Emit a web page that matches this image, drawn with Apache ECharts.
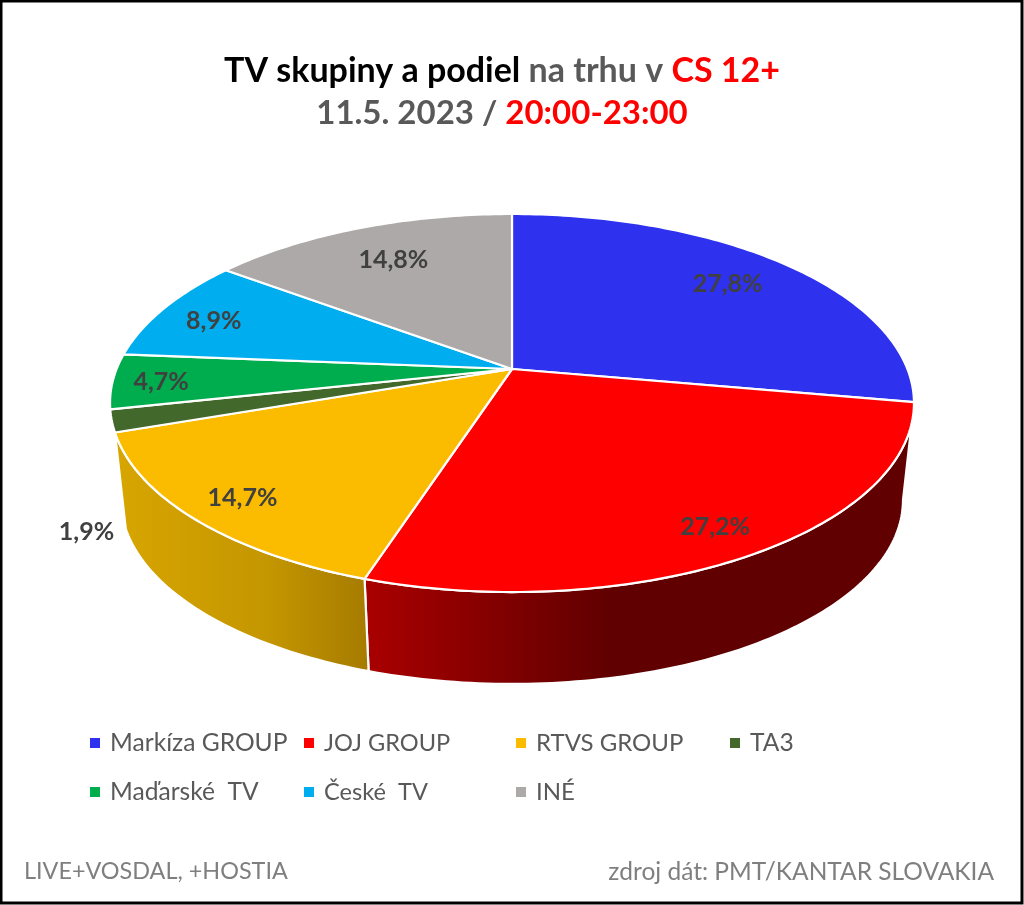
<!DOCTYPE html>
<html><head><meta charset="utf-8">
<style>html,body{margin:0;padding:0;background:#fff}#c{width:1024px;height:905px}</style>
<script src="https://cdn.jsdelivr.net/npm/echarts@6/dist/echarts.min.js"></script>
</head><body><div id="c"></div>
<script>
const categories = ['Markíza GROUP','JOJ GROUP','RTVS GROUP','TA3','Maďarské  TV','České  TV','INÉ'];
const shares = [27.8,27.2,14.7,1.9,4.7,8.9,14.8];
const colors = ['#2E31EE','#FF0000','#FBBC00','#43682B','#00AD4E','#00AEEF','#ADA9A8'];
const wallStops = [
  [[0,'#7a7a7a'],[1,'#7a7a7a']],
  [[0,'#AA0000'],[0.45,'#600000'],[1,'#600000']],
  [[0,'#D8A600'],[0.6,'#C49600'],[1,'#A67B00']],
  [[0,'#2f4a1e'],[1,'#2f4a1e']],
  [[0,'#007a36'],[1,'#007a36']],
  [[0,'#007aa8'],[1,'#007aa8']],
  [[0,'#7a7776'],[1,'#7a7776']]
];
// label placement: fraction of radius along the slice's mid angle, plus a downward nudge
const labelReach = [0.775,0.865,0.865,1.06,0.88,0.85,0.75];
const labelDrop = [-2,1,2,108,2,4,0];
const legendColumns = [
  {left:85,  size:24.6, names:[categories[0],categories[4]]},
  {left:299, size:23.6, names:[categories[1],categories[5]]},
  {left:511, size:24,   names:[categories[2],categories[6]]},
  {left:725, size:24.6, names:[categories[3]]}
];
// perspective disc
const K = 0.18, CX = 512;
const TOP = {cy:369, R:395.4, B:182.9};
const RIM = {cy:467, R:384.6, B:177.9};
function project(plane, deg, rho){
  const a = deg*Math.PI/180, u = Math.sin(a)*rho, v = -Math.cos(a)*rho, w = 1-K*v;
  return [CX+plane.R*u/w, plane.cy+plane.B*v/w];
}
function arc(plane, a0, a1){
  const n = Math.max(2, Math.ceil(Math.abs(a1-a0))), out = [];
  for(let i=0;i<=n;i++) out.push(project(plane, a0+(a1-a0)*i/n, 1));
  return out;
}
const WALL_FROM = 100.4, WALL_TO = 259.6;
const fmt = v => v.toFixed(1).replace('.',',')+'%';
let acc = 0;
const series = categories.map((name,i)=>{
  const start = acc/100*360; acc += shares[i]; const end = acc/100*360;
  return {
    type:'custom', name, coordinateSystem:'none', silent:true,
    itemStyle:{color:colors[i]},
    data:[[start,end,shares[i]]],
    renderItem(params, api){
      const a0 = api.value(0), a1 = api.value(1), children = [];
      const w0 = Math.max(a0,WALL_FROM), w1 = Math.min(a1,WALL_TO);
      if(w1>w0){
        const pts = arc(TOP,w0,w1).concat(arc(RIM,w1,w0));
        children.push({type:'polygon',z2:i===3?1:2,shape:{points:pts},
          style:{fill:{type:'linear',x:0,y:0,x2:1,y2:0,colorStops:wallStops[i].map(s=>({offset:s[0],color:s[1]}))},
                 stroke:'#fff',lineWidth:2.2,lineJoin:'round'}});
      }
      children.push({type:'polygon',z2:5,shape:{points:[[CX,TOP.cy]].concat(arc(TOP,a0,a1))},
        style:{fill:colors[i],stroke:'#fff',lineWidth:2.2,lineJoin:'round'}});
      const mid=(a0+a1)/2, p=project(TOP,mid,labelReach[i]);
      children.push({type:'text',z2:10,x:p[0],y:p[1]+labelDrop[i],
        style:{text:fmt(api.value(2)),fill:'#404040',font:'bold 25px Lato, sans-serif',align:'center',verticalAlign:'middle'}});
      return {type:'group',children};
    }
  };
});
const chart = echarts.init(document.getElementById('c'),null,{renderer:'canvas'});
chart.setOption({
  animation:false, backgroundColor:'#fff',
  title:[
    {left:502,top:49,textAlign:'center',padding:0,
     text:'{a|TV skupiny a podiel }{b|na trhu v }{c|CS 12+}',
     textStyle:{rich:{
       a:{fontFamily:'Lato',fontWeight:'bold',fontSize:34,color:'#000',lineHeight:44},
       b:{fontFamily:'Lato',fontWeight:'bold',fontSize:34,color:'#595959',lineHeight:44},
       c:{fontFamily:'Lato',fontWeight:'bold',fontSize:34,color:'#FF0000',lineHeight:44}}}},
    {left:502,top:91,textAlign:'center',padding:0,
     text:'{b|11.5. 2023 / }{c|20:00-23:00}',
     textStyle:{rich:{
       b:{fontFamily:'Lato',fontWeight:'bold',fontSize:33,color:'#595959',lineHeight:44},
       c:{fontFamily:'Lato',fontWeight:'bold',fontSize:33,color:'#FF0000',lineHeight:44}}}},
    {left:24,top:860,padding:0,text:'LIVE+VOSDAL, +HOSTIA',textStyle:{fontFamily:'Lato',fontWeight:'normal',fontSize:23.4,color:'#7F7F7F'}},
    {left:994,top:860,padding:0,textAlign:'right',text:'zdroj dát: PMT/KANTAR SLOVAKIA',textStyle:{fontFamily:'Lato',fontWeight:'normal',fontSize:24.5,color:'#7F7F7F'}}
  ],
  legend:legendColumns.map(c=>({
    orient:'vertical',left:c.left,top:725,itemWidth:10,itemHeight:10,itemGap:23,selectedMode:false,icon:'rect',
    data:c.names,textStyle:{fontFamily:'Lato',fontSize:c.size,color:'#595959',lineHeight:26,padding:[0,0,0,5]}
  })),
  graphic:[{type:'rect',z:100,shape:{x:1,y:1,width:1021,height:902},style:{fill:'none',stroke:'#000',lineWidth:3},silent:true}],
  series
});
</script></body></html>
